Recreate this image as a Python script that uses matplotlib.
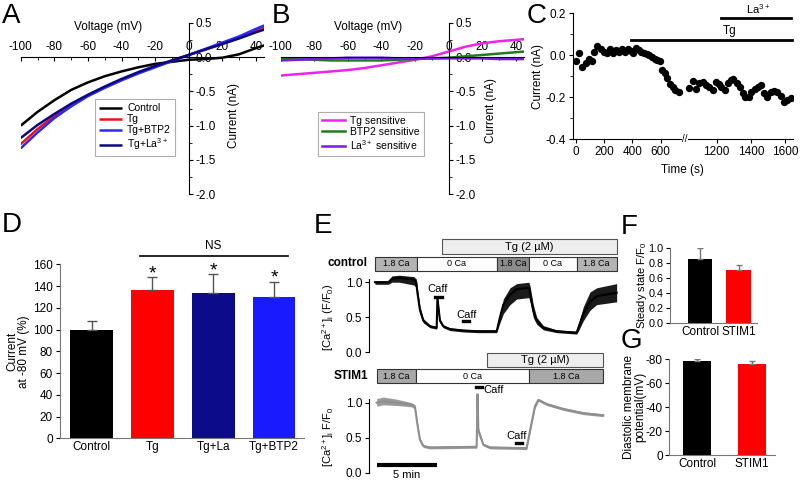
import numpy as np
import matplotlib
matplotlib.use('Agg')
import matplotlib.pyplot as plt
from matplotlib.patches import Rectangle
from matplotlib.transforms import blended_transform_factory
from matplotlib.ticker import MultipleLocator, FormatStrFormatter

plt.rcParams['font.family'] = ['Liberation Sans', 'DejaVu Sans']
plt.rcParams['mathtext.fontset'] = 'custom'
plt.rcParams['mathtext.rm'] = 'Liberation Sans'
plt.rcParams['mathtext.it'] = 'Liberation Sans:italic'
plt.rcParams['mathtext.bf'] = 'Liberation Sans:bold'
plt.rcParams['axes.unicode_minus'] = False
plt.rcParams['font.size'] = 8.5
plt.rcParams['axes.linewidth'] = 0.8

# ---------------- data ----------------
# Panel A: I-V curves
iv_voltage = [-100, -90, -80, -70, -60, -50, -40, -30, -20, -10, 0, 10, 20, 30, 40, 45]
iv_control = [-1.00, -0.80, -0.63, -0.48, -0.37, -0.28, -0.21, -0.15, -0.10, -0.07, -0.04, -0.03, -0.01, 0.04, 0.13, 0.17]
iv_tg = [-1.27, -1.05, -0.86, -0.70, -0.56, -0.44, -0.33, -0.23, -0.14, -0.05, 0.03, 0.11, 0.19, 0.28, 0.38, 0.43]
iv_tg_btp2 = [-1.33, -1.10, -0.89, -0.72, -0.57, -0.45, -0.34, -0.24, -0.15, -0.06, 0.03, 0.12, 0.21, 0.30, 0.41, 0.46]
iv_tg_la = [-1.18, -0.99, -0.83, -0.68, -0.55, -0.43, -0.32, -0.22, -0.13, -0.05, 0.03, 0.11, 0.19, 0.27, 0.36, 0.40]
iv_labels_a = ['Control', 'Tg', 'Tg+BTP2', 'Tg+La$^{3+}$']

# Panel B: difference currents
iv_tg_sens = [-0.27, -0.25, -0.23, -0.21, -0.19, -0.16, -0.12, -0.08, -0.04, 0.01, 0.08, 0.15, 0.20, 0.23, 0.25, 0.26]
iv_btp2_sens = [-0.02, -0.03, -0.04, -0.05, -0.05, -0.05, -0.05, -0.04, -0.03, -0.02, -0.01, 0.01, 0.03, 0.05, 0.07, 0.08]
iv_la_sens = [-0.05, -0.04, -0.03, -0.02, -0.01, -0.01, -0.01, -0.02, -0.02, -0.02, -0.02, -0.02, -0.02, -0.03, -0.03, -0.03]
iv_labels_b = ['Tg sensitive', 'BTP2 sensitive', 'La$^{3+}$ sensitive']

# Panel C: current vs time (s)
c_time = [0, 24, 47, 71, 94, 118, 129, 153, 176, 201, 224, 243, 266, 285, 308, 328, 350, 370,
          389, 407, 427, 445, 464, 483, 502, 521, 539, 558, 578, 596, 610, 628, 648, 667, 685, 705, 728,
          1040, 1059, 1079, 1098, 1118, 1137, 1157, 1176, 1196, 1211, 1227, 1246, 1266, 1281, 1297,
          1317, 1336, 1352, 1367, 1387, 1402, 1422, 1441, 1457, 1476, 1496, 1515, 1535, 1554, 1574,
          1593, 1613, 1632]
c_current = [-0.027, 0.010, -0.054, -0.038, -0.019, -0.025, 0.017, 0.044, 0.029, 0.017, 0.010, 0.029,
             0.013, 0.025, 0.017, 0.029, 0.017, 0.029, 0.022, 0.013, 0.033, 0.025, 0.017, 0.013, 0.006,
             0.002, -0.006, -0.019, -0.022, -0.027, -0.070, -0.086, -0.110, -0.137, -0.152, -0.165, -0.175,
             -0.157, -0.122, -0.162, -0.133, -0.127, -0.141, -0.152, -0.165, -0.125, -0.137, -0.152,
             -0.165, -0.130, -0.117, -0.111, -0.133, -0.152, -0.178, -0.200, -0.197, -0.173, -0.162,
             -0.149, -0.143, -0.178, -0.200, -0.173, -0.168, -0.173, -0.194, -0.220, -0.213, -0.205]
c_tick_times = [0, 200, 400, 600, 1200, 1400, 1600]
c_tg_period = [391, 1642]
c_la_period = [1223, 1634]

# Panel D
d_groups = ['Control', 'Tg', 'Tg+La', 'Tg+BTP2']
d_values = [100, 136, 134, 130]
d_errors = [8, 12, 17, 14]
d_colors = ['#000000', '#ff0000', '#0c0c8a', '#1a1aff']

# Panel E top (control): time (min), mean, lower, upper
e1_t = [0.0, 1.1, 1.4, 2.0, 3.2, 3.4, 3.5, 3.71, 3.99, 4.54, 5.09, 5.15, 5.36, 5.64, 6.19, 7.29, 8.5,
        10.04, 10.31, 10.59, 11.14, 11.69, 12.7, 12.79, 13.06, 13.34, 13.89, 14.99, 16.64, 16.78,
        17.19, 17.74, 18.29, 19.94]
e1_mean = [1.0, 1.0, 1.05, 1.06, 1.04, 1.0, 0.85, 0.6, 0.45, 0.37, 0.35, 0.78, 0.45, 0.37, 0.33, 0.31, 0.30,
           0.30, 0.50, 0.68, 0.82, 0.90, 0.92, 0.85, 0.60, 0.45, 0.35, 0.30, 0.28, 0.35,
           0.55, 0.72, 0.80, 0.85]
e1_lo = [0.97, 0.97, 1.0, 1.0, 0.96, 0.93, 0.78, 0.55, 0.42, 0.35, 0.33, 0.74, 0.42, 0.35, 0.31, 0.29, 0.28,
         0.28, 0.42, 0.55, 0.68, 0.76, 0.78, 0.72, 0.50, 0.40, 0.32, 0.28, 0.26, 0.30,
         0.45, 0.60, 0.68, 0.72]
e1_hi = [1.02, 1.02, 1.09, 1.10, 1.08, 1.05, 0.92, 0.66, 0.48, 0.39, 0.37, 0.80, 0.48, 0.39, 0.35, 0.33, 0.32,
         0.32, 0.55, 0.76, 0.92, 0.98, 1.0, 0.95, 0.68, 0.50, 0.38, 0.32, 0.30, 0.40,
         0.65, 0.86, 0.92, 0.98]
e1_solutions = [(0.0, 3.44, '1.8 Ca'), (3.44, 10.04, '0 Ca'), (10.04, 12.7, '1.8 Ca'),
                (12.7, 16.64, '0 Ca'), (16.64, 19.94, '1.8 Ca')]
e1_tg = (5.5, 19.94)

# Panel E bottom (STIM1)
e2_t = [0.14, 0.69, 1.79, 3.03, 3.3, 3.49, 3.71, 3.99, 4.54, 8.39, 8.46, 8.53, 8.94, 9.49, 12.51, 12.79,
        13.2, 13.48, 14.16, 15.54, 17.19, 18.84]
e2_mean = [1.0, 1.02, 1.0, 0.97, 0.94, 0.70, 0.47, 0.38, 0.36, 0.37, 1.12, 0.60, 0.40, 0.36, 0.35, 0.60,
           0.95, 1.04, 0.98, 0.91, 0.85, 0.82]
e2_lo = [0.95, 0.97, 0.96, 0.94, 0.90, 0.66, 0.44, 0.36, 0.34, 0.35, 1.10, 0.55, 0.38, 0.34, 0.33, 0.56,
         0.92, 1.02, 0.96, 0.89, 0.83, 0.80]
e2_hi = [1.06, 1.08, 1.05, 1.0, 0.97, 0.74, 0.50, 0.40, 0.38, 0.39, 1.14, 0.65, 0.42, 0.38, 0.37, 0.64,
         0.98, 1.06, 1.0, 0.93, 0.87, 0.84]
e2_solutions = [(0.14, 3.38, '1.8 Ca'), (3.38, 12.7, '0 Ca'), (12.7, 18.84, '1.8 Ca')]
e2_tg = (9.22, 18.84)

# Panel F
f_groups = ['Control', 'STIM1']
f_values = [0.85, 0.71]
f_errors = [0.15, 0.06]

# Panel G
g_groups = ['Control', 'STIM1']
g_values = [-78, -76]
g_errors = [2, 2]

# ---------------- figure ----------------
W, H = 812, 480
fig = plt.figure(figsize=(8.12, 4.8), dpi=100)


def px_axes(l, t, r, b):
    return fig.add_axes([l / W, 1 - b / H, (r - l) / W, (b - t) / H])


def letter(x, y, s):
    fig.text(x / W, 1 - y / H, s, fontsize=20, ha='left', va='top')


def iv_axes(ax):
    ax.set_xlim(-100, 45)
    ax.set_ylim(-2.0, 0.5)
    ax.patch.set_alpha(0)
    ax.spines['left'].set_visible(False)
    ax.spines['bottom'].set_visible(False)
    ax.spines['top'].set_position(('data', 0))
    ax.spines['right'].set_position(('data', 0))
    ax.xaxis.set_ticks_position('top')
    ax.yaxis.set_ticks_position('right')
    ax.set_xticks(range(-100, 41, 20))
    ax.xaxis.set_minor_locator(MultipleLocator(10))
    ax.set_yticks([0.5, 0.0, -0.5, -1.0, -1.5, -2.0])
    ax.yaxis.set_minor_locator(MultipleLocator(0.25))
    ax.yaxis.set_major_formatter(FormatStrFormatter('%.1f'))
    ax.tick_params(axis='x', which='major', direction='in', length=3, pad=3, labelsize=8.5)
    ax.tick_params(axis='x', which='minor', direction='in', length=2)
    ax.tick_params(axis='y', which='major', direction='out', length=3, pad=2, labelsize=8.5)
    ax.tick_params(axis='y', which='minor', direction='out', length=2)
    ax.set_xlabel('Voltage (mV)', fontsize=8.5)
    ax.xaxis.set_label_position('top')
    ax.xaxis.set_label_coords(0.36, 0.975)
    ax.xaxis.label.set_va('center')
    ax.set_ylabel('Current (nA)', fontsize=8.5, rotation=90)
    ax.yaxis.set_label_position('right')


# ---- Panel A ----
axA = px_axes(20.7, 22.7, 264.3, 194.3)
iv_axes(axA)
axA.yaxis.set_label_coords(0.851, 0.462)
a_colors = ['#000000', '#ee1111', '#2a2aff', '#0a0a80']
a_series = [iv_control, iv_tg, iv_tg_btp2, iv_tg_la]
for ys, c, lab in zip(a_series, a_colors, iv_labels_a):
    axA.plot(iv_voltage, ys, color=c, lw=1.8, label=lab, solid_capstyle='butt')
legA = axA.legend(loc='upper left', bbox_to_anchor=(0.305, 0.555), fontsize=7.5, frameon=True,
                  fancybox=False, edgecolor='#999999', handlelength=2.2, handletextpad=0.5,
                  labelspacing=0.1, borderpad=0.4, borderaxespad=0)
legA.get_frame().set_linewidth(0.8)

# ---- Panel B ----
axB = px_axes(280.7, 22.7, 524.3, 194.3)
iv_axes(axB)
axB.yaxis.set_label_coords(0.839, 0.49)
b_colors = ['#ee22ee', '#1e7d1e', '#7a1ae6']
for ys, c, lab in zip([iv_tg_sens, iv_btp2_sens, iv_la_sens], b_colors, iv_labels_b):
    axB.plot(iv_voltage, ys, color=c, lw=1.8, label=lab)
legB = axB.legend(loc='upper left', bbox_to_anchor=(0.153, 0.48), fontsize=7.5, frameon=True,
                  fancybox=False, edgecolor='#999999', handlelength=2.2, handletextpad=0.5,
                  labelspacing=0.1, borderpad=0.4, borderaxespad=0)
legB.get_frame().set_linewidth(0.8)

# ---- Panel C (broken time axis: the late segment is drawn at a wider scale) ----
BREAK_POS = 996.5     # axis position of t = 1200 s
LATE_SCALE = 1.2085   # relative scale of the segment after the break


def c_pos(t):
    t = np.asarray(t, dtype=float)
    return np.where(t > 900, BREAK_POS + (t - 1200) * LATE_SCALE, t)


axC = px_axes(572.7, 13.3, 793, 139.3)
axC.set_xlim(-21.2, 1535.7)
axC.set_ylim(-0.4, 0.2)
axC.spines['top'].set_visible(False)
axC.spines['right'].set_visible(False)
axC.plot(c_pos(c_time), c_current, 'o', color='black', ms=5.3, mew=0)
axC.set_xticks(c_pos(c_tick_times))
axC.set_xticklabels([str(t) for t in c_tick_times])
axC.set_yticks([0.2, 0.0, -0.2, -0.4])
axC.yaxis.set_minor_locator(MultipleLocator(0.1))
axC.yaxis.set_major_formatter(FormatStrFormatter('%.1f'))
axC.tick_params(axis='both', which='major', length=3, pad=2, labelsize=8.5)
axC.tick_params(axis='y', which='minor', length=2)
axC.set_xlabel('Time (s)', fontsize=8.5, labelpad=4)
axC.set_ylabel('Current (nA)', fontsize=8.5, labelpad=1)
tg0, tg1 = c_pos(c_tg_period)
la0, la1 = c_pos(c_la_period)
axC.plot([tg0, tg1], [0.073, 0.073], color='black', lw=2, clip_on=False)
axC.plot([la0, la1], [0.176, 0.176], color='black', lw=2, clip_on=False)
axC.text(float(c_pos(1277)), 0.085, 'Tg', ha='center', va='bottom', fontsize=8.5)
axC.text(float(c_pos(1441)), 0.187, 'La$^{3+}$', ha='center', va='bottom', fontsize=8)
brk = blended_transform_factory(axC.transData, axC.transAxes)
axC.text(773, 0.0, '//', transform=brk, ha='center', va='center', fontsize=7,
         bbox=dict(fc='white', ec='none', pad=0.3), clip_on=False)

# ---- Panel D ----
axD = px_axes(60, 264.3, 304, 438.3)
xD = np.arange(len(d_groups))
axD.bar(xD, d_values, width=0.7, color=d_colors, edgecolor='none',
        yerr=[np.zeros(len(d_errors)), d_errors],
        error_kw=dict(ecolor='#555555', elinewidth=1.0, capsize=3.5, capthick=1.0))
axD.set_xlim(-0.52, 3.49)
axD.set_ylim(0, 160)
axD.set_yticks(range(0, 161, 20))
axD.set_xticks(xD)
axD.set_xticklabels(d_groups, fontsize=8.5)
axD.tick_params(axis='x', length=0, pad=2)
axD.tick_params(axis='y', length=3, pad=2, labelsize=8.5)
axD.spines['top'].set_visible(False)
axD.spines['right'].set_visible(False)
for sp in ('left', 'bottom'):
    axD.spines[sp].set_color('#777777')
axD.set_ylabel('Current\nat -80 mV (%)', fontsize=8.5, linespacing=1.0, labelpad=2)
for i in range(1, 4):
    axD.text(xD[i], d_values[i] + d_errors[i] + 3, '*', ha='center', va='center', fontsize=14,
             clip_on=False)
axD.plot([0.8, 3.22], [167.6, 167.6], color='black', lw=1.2, clip_on=False)
axD.text(2.0, 171, 'NS', ha='center', va='bottom', fontsize=8.5)

# ---- Panel E ----


def e_panel(ax, t, mean, lo, hi, color, band_color, ylim_top):
    ax.set_xlim(-0.47, 20.2)
    ax.set_ylim(0, ylim_top)
    ax.fill_between(t, lo, hi, color=band_color, lw=0)
    ax.plot(t, mean, color=color, lw=1.5)
    for sp in ('top', 'right', 'bottom'):
        ax.spines[sp].set_visible(False)
    ax.spines['left'].set_bounds(0, 1.05)
    ax.set_xticks([])
    ax.set_yticks([0.0, 0.5, 1.0])
    ax.yaxis.set_major_formatter(FormatStrFormatter('%.1f'))
    ax.tick_params(axis='y', length=3, pad=2, labelsize=8.5)
    ax.patch.set_alpha(0)


def sol_boxes(ax, segs, y0, y1, fills):
    for (a, b, lab), fc in zip(segs, fills):
        ax.add_patch(Rectangle((a, y0), b - a, y1 - y0, fc=fc, ec='#333333', lw=0.8, clip_on=False))
        ax.text((a + b) / 2, (y0 + y1) / 2, lab, ha='center', va='center', fontsize=6.5, clip_on=False)


def tg_box(ax, span, y0, y1):
    a, b = span
    ax.add_patch(Rectangle((a, y0), b - a, y1 - y0, fc='#eeeeee', ec='#555555', lw=0.8, clip_on=False))
    ax.text((a + b) / 2, (y0 + y1) / 2, 'Tg (2 µM)', ha='center', va='center', fontsize=8, clip_on=False)


axE1 = px_axes(369.3, 271, 619.8, 352.3)
e_panel(axE1, e1_t, e1_mean, e1_lo, e1_hi, 'black', '#1a1a1a', 1.16)
sol_boxes(axE1, e1_solutions, 1.16, 1.364, ['#b4b4b4', 'white', '#8c8c8c', 'white', '#b4b4b4'])
tg_box(axE1, e1_tg, 1.402, 1.612)
axE1.set_ylabel('[Ca$^{2+}$]$_\\mathrm{i}$ (F/F$_0$)', fontsize=8)
axE1.yaxis.set_label_coords(-0.133, 0.434)
axE1.plot([4.95, 5.5], [0.795, 0.795], color='black', lw=2.4)
axE1.text(5.2, 0.9, 'Caff', ha='center', va='center', fontsize=8)
axE1.plot([7.29, 7.78], [0.44, 0.44], color='black', lw=2.4)
axE1.text(7.55, 0.53, 'Caff', ha='center', va='center', fontsize=8)
fig.text(368 / W, 1 - 263 / H, 'control', ha='right', va='center', fontsize=8.5, fontweight='bold')

axE2 = px_axes(369.3, 383.3, 619.8, 472.7)
e_panel(axE2, e2_t, e2_mean, e2_lo, e2_hi, '#8f8f8f', '#9a9a9a', 1.277)
sol_boxes(axE2, e2_solutions, 1.277, 1.477, ['#a8a8a8', 'white', '#a8a8a8'])
tg_box(axE2, e2_tg, 1.514, 1.714)
axE2.set_ylabel('[Ca$^{2+}$]$_\\mathrm{i}$ F/F$_0$', fontsize=8)
axE2.yaxis.set_label_coords(-0.133, 0.40)
axE2.plot([8.3, 8.8], [1.23, 1.23], color='black', lw=2.4, clip_on=False)
axE2.text(8.91, 1.18, 'Caff', ha='left', va='center', fontsize=8)
axE2.plot([11.6, 12.15], [0.42, 0.42], color='black', lw=2.4)
axE2.text(11.72, 0.52, 'Caff', ha='center', va='center', fontsize=8)
axE2.plot([0.14, 5.14], [0.11, 0.11], color='black', lw=3, clip_on=False, solid_capstyle='butt')
axE2.text(2.64, -0.035, '5 min', ha='center', va='center', fontsize=8, clip_on=False)
fig.text(368 / W, 1 - 376 / H, 'STIM1', ha='right', va='center', fontsize=8.5, fontweight='bold')

# ---- Panel F ----
axF = px_axes(670, 248, 757, 323)
xF = np.arange(len(f_groups))
axF.bar(xF, f_values, width=0.64, color=['#000000', '#ff0000'], edgecolor='none',
        yerr=[np.zeros(2), f_errors],
        error_kw=dict(ecolor='#777777', elinewidth=1.0, capsize=2.5, capthick=1.0))
axF.set_xlim(-0.78, 1.48)
axF.set_ylim(0, 1.0)
axF.set_yticks(np.arange(0, 1.01, 0.2))
axF.yaxis.set_major_formatter(FormatStrFormatter('%.1f'))
axF.set_xticks(xF)
axF.set_xticklabels(f_groups, fontsize=8.5)
axF.tick_params(axis='x', length=0, pad=2)
axF.tick_params(axis='y', length=3, pad=1.5, labelsize=7.8)
axF.spines['top'].set_visible(False)
axF.spines['right'].set_visible(False)
for sp in ('left', 'bottom'):
    axF.spines[sp].set_color('#777777')
axF.set_ylabel('Steady state F/F$_0$', fontsize=8)
axF.yaxis.set_label_coords(-0.245, 0.5)

# ---- Panel G ----
axG = px_axes(669, 359, 775, 455)
xG = np.arange(len(g_groups))
axG.bar(xG, g_values, width=0.51, color=['#000000', '#ff0000'], edgecolor='none',
        yerr=[g_errors, np.zeros(2)],
        error_kw=dict(ecolor='#777777', elinewidth=1.0, capsize=2.5, capthick=1.0))
axG.set_xlim(-0.51, 1.42)
axG.set_ylim(0, -80)
axG.set_yticks([0, -20, -40, -60, -80])
axG.set_xticks(xG)
axG.set_xticklabels(g_groups, fontsize=8.5)
axG.tick_params(axis='x', length=0, pad=2)
axG.tick_params(axis='y', length=3, pad=1.5, labelsize=8.5)
axG.spines['top'].set_visible(False)
axG.spines['right'].set_visible(False)
for sp in ('left', 'bottom'):
    axG.spines[sp].set_color('#777777')
axG.set_ylabel('Diastolic membrane\npotential(mV)', fontsize=8.5, linespacing=1.0)
axG.yaxis.set_label_coords(-0.21, 0.5)

# ---- panel letters ----
letter(2, 3, 'A')
letter(272, 3, 'B')
letter(527, 3, 'C')
letter(2, 212, 'D')
letter(314, 213, 'E')
letter(621, 214, 'F')
letter(621, 328, 'G')

fig.savefig('out.png', dpi=100)
